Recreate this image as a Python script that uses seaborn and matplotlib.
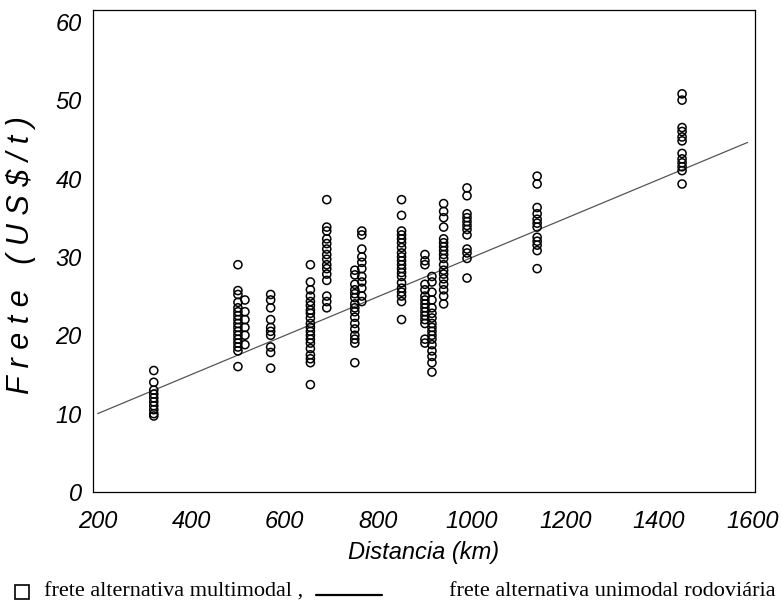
import numpy as np
import pandas as pd
import matplotlib
matplotlib.use("Agg")
import matplotlib.pyplot as plt
from matplotlib.lines import Line2D
import seaborn as sns

# distance columns (km) and freight values (US$/t) for the multimodal alternative
d320 = [15.5, 14.0, 13.0, 12.5, 12.0, 11.5, 11.0, 10.5, 10.0, 9.7]
d500 = [29.0, 25.7, 25.2, 24.2, 23.5, 23.0, 22.5, 22.0, 21.5, 21.0, 20.5, 20.0,
        19.5, 19.0, 18.5, 18.0, 16.0]
d515 = [24.5, 23.0, 22.0, 21.0, 20.0, 18.8]
d570 = [25.2, 24.5, 23.5, 22.0, 21.0, 20.5, 20.0, 18.5, 17.8, 15.8]
d655 = [29.0, 26.8, 25.8, 25.0, 24.3, 23.8, 23.2, 22.8, 22.2, 21.5, 21.0, 20.5,
        20.0, 19.5, 19.0, 18.3, 17.5, 17.0, 16.5, 13.7]
d690 = [37.3, 33.8, 33.3, 32.3, 31.7, 31.0, 30.3, 29.7, 29.0, 28.5, 27.8, 27.0,
        25.0, 24.3, 23.5]
d750 = [28.3, 27.7, 26.5, 25.8, 25.3, 24.8, 24.0, 23.5, 23.0, 22.3, 21.5, 20.8,
        20.0, 19.5, 19.0, 16.5]
d765 = [33.3, 32.8, 31.0, 30.0, 29.3, 28.5, 27.5, 26.8, 26.0, 25.0, 24.3]
d850 = [37.3, 35.3, 33.3, 32.8, 32.3, 31.8, 31.2, 30.5, 30.0, 29.5, 29.0, 28.5,
        28.0, 27.5, 26.7, 26.0, 25.5, 25.0, 24.3, 22.0]
d900 = [30.3, 29.5, 29.0, 26.5, 25.8, 25.0, 24.5, 24.0, 23.5, 23.0, 22.5, 22.0,
        21.5, 19.5, 19.0]
d915 = [27.5, 26.8, 25.5, 24.5, 23.5, 22.8, 22.2, 21.5, 21.0, 20.5, 20.0, 19.5,
        18.8, 18.0, 17.3, 16.5, 15.3]
d940 = [36.8, 35.8, 35.0, 33.8, 32.3, 31.8, 31.3, 30.8, 30.3, 29.8, 29.0, 28.3,
        27.8, 27.2, 26.5, 25.8, 25.0, 24.0]
d990 = [38.8, 37.8, 35.5, 35.0, 34.5, 34.0, 33.5, 32.8, 31.0, 30.5, 29.8, 27.3]
d1140 = [40.3, 39.3, 36.3, 35.5, 34.8, 34.3, 33.8, 32.5, 32.0, 31.5, 30.8, 28.5]
d1450 = [50.8, 50.0, 46.5, 46.0, 45.3, 44.8, 43.2, 42.5, 42.0, 41.5, 41.0, 39.3]

columns = {320: d320, 500: d500, 515: d515, 570: d570, 655: d655, 690: d690,
           750: d750, 765: d765, 850: d850, 900: d900, 915: d915, 940: d940,
           990: d990, 1140: d1140, 1450: d1450}

# road-only (unimodal) freight line
line_x = [200, 1590]
line_y = [10.0, 44.6]

x_ticks = [200, 400, 600, 800, 1000, 1200, 1400, 1600]
y_ticks = [0, 10, 20, 30, 40, 50, 60]

rows = [(k, v) for k, vals in columns.items() for v in vals]
df = pd.DataFrame(rows, columns=["dist", "frete"])
df_line = pd.DataFrame({"dist": line_x, "frete": line_y})

sns.set_theme(style="white")
plt.rcParams["font.family"] = ["Liberation Sans", "DejaVu Sans"]
plt.rcParams["text.color"] = "black"
plt.rcParams["xtick.color"] = "black"
plt.rcParams["ytick.color"] = "black"

W, H = 782, 608
fig = plt.figure(figsize=(W / 100, H / 100), dpi=100)
ax = fig.add_axes([93 / W, 1 - 492 / H, (755 - 93) / W, (492 - 10) / H])

sns.lineplot(data=df_line, x="dist", y="frete", ax=ax, color="#555555",
             linewidth=0.9, zorder=2)
sns.scatterplot(data=df, x="dist", y="frete", ax=ax, marker="o", s=34,
                facecolor="none", edgecolor="black", linewidth=1.1, zorder=3)

ax.set_xlim(190, 1606)
ax.set_ylim(0, 61.5)
ax.set_xticks(x_ticks)
ax.set_yticks(y_ticks)
ax.set_xticklabels([str(t) for t in x_ticks], fontsize=17, style="italic",
                   color="black")
ax.set_yticklabels([str(t) for t in y_ticks], fontsize=17, style="italic",
                   color="black")
ax.tick_params(axis="x", length=0, pad=13)
ax.tick_params(axis="y", length=0, pad=8)
ax.set_xlabel("")
ax.set_ylabel("")
for s in ax.spines.values():
    s.set_visible(True)
    s.set_color("black")
    s.set_linewidth(0.9)

fig.text(424 / W, 1 - 552 / H, "Distancia (km)", fontsize=17, style="italic",
         ha="center", va="center", color="black")
fig.text(21 / W, 1 - 255 / H, "F r e t e   ( U S $ / t )", fontsize=22,
         style="italic", rotation=90, ha="center", va="center", color="black")

# legend below the chart
serif = ["Liberation Serif", "DejaVu Serif"]
fig.add_artist(Line2D([22 / W], [1 - 592 / H], marker="s", markersize=10.5,
                      markerfacecolor="white", markeredgecolor="black",
                      markeredgewidth=1.2, linestyle="none",
                      transform=fig.transFigure))
fig.text(44 / W, 1 - 592 / H, "frete alternativa multimodal ,", fontsize=16,
         family=serif, ha="left", va="center", color="black")
fig.add_artist(Line2D([316 / W, 382 / W], [1 - 595 / H, 1 - 595 / H],
                      color="black", linewidth=1.6, transform=fig.transFigure))
fig.text(776 / W, 1 - 592 / H, "frete alternativa unimodal rodoviária",
         fontsize=16, family=serif, ha="right", va="center", color="black")

fig.savefig("out.png", dpi=100)
